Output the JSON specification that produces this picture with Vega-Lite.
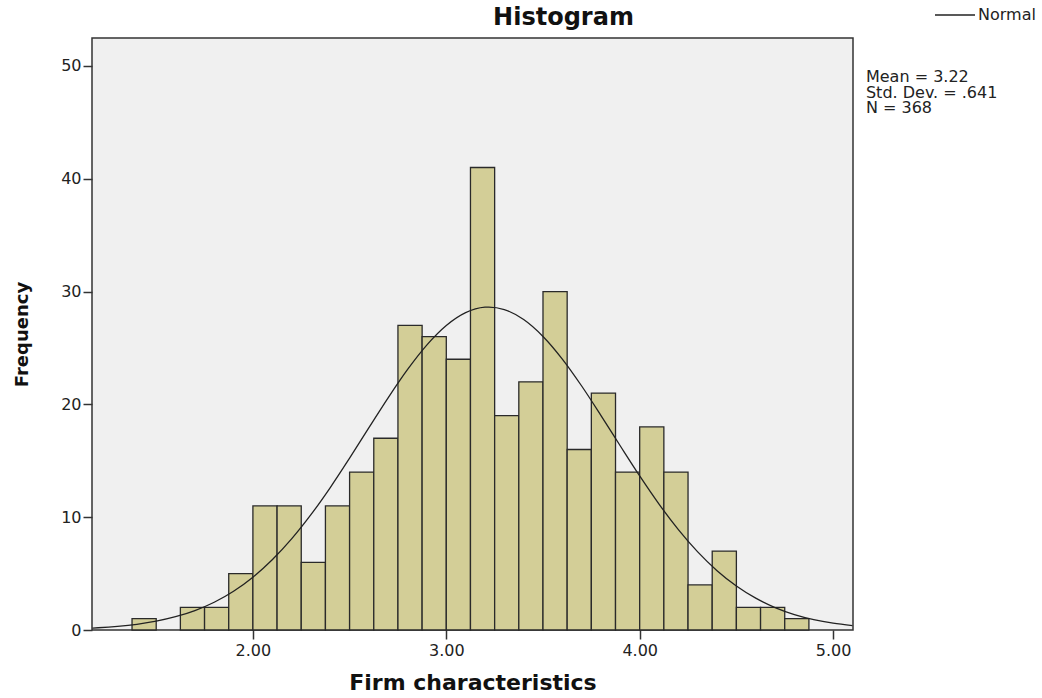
{
  "$schema": "https://vega.github.io/schema/vega-lite/v6.json",
  "width": 761,
  "height": 592,
  "autosize": {"type": "none"},
  "padding": {"left": 92, "top": 38, "right": 189, "bottom": 68},
  "background": "white",
  "config": {
    "font": "DejaVu Sans",
    "view": {"fill": "#f0f0f0", "stroke": "#333333", "strokeWidth": 1.5},
    "axis": {"grid": false, "domain": false, "tickColor": "#333333", "tickSize": 9, "tickWidth": 1.5, "labelFont": "DejaVu Sans", "labelFontSize": 16, "labelColor": "#222222", "titleFont": "DejaVu Sans", "titleFontWeight": "bold", "titleColor": "#111111"}
  },
  "title": {"text": "Histogram", "fontSize": 24, "font": "DejaVu Sans", "fontWeight": "bold", "color": "#111111", "anchor": "middle", "dx": 91, "dy": 44, "offset": 8},
  "datasets": {
    "bins": [
      {"bin_start": 1.375, "bin_end": 1.5, "count": 1},
      {"bin_start": 1.625, "bin_end": 1.75, "count": 2},
      {"bin_start": 1.75, "bin_end": 1.875, "count": 2},
      {"bin_start": 1.875, "bin_end": 2.0, "count": 5},
      {"bin_start": 2.0, "bin_end": 2.125, "count": 11},
      {"bin_start": 2.125, "bin_end": 2.25, "count": 11},
      {"bin_start": 2.25, "bin_end": 2.375, "count": 6},
      {"bin_start": 2.375, "bin_end": 2.5, "count": 11},
      {"bin_start": 2.5, "bin_end": 2.625, "count": 14},
      {"bin_start": 2.625, "bin_end": 2.75, "count": 17},
      {"bin_start": 2.75, "bin_end": 2.875, "count": 27},
      {"bin_start": 2.875, "bin_end": 3.0, "count": 26},
      {"bin_start": 3.0, "bin_end": 3.125, "count": 24},
      {"bin_start": 3.125, "bin_end": 3.25, "count": 41},
      {"bin_start": 3.25, "bin_end": 3.375, "count": 19},
      {"bin_start": 3.375, "bin_end": 3.5, "count": 22},
      {"bin_start": 3.5, "bin_end": 3.625, "count": 30},
      {"bin_start": 3.625, "bin_end": 3.75, "count": 16},
      {"bin_start": 3.75, "bin_end": 3.875, "count": 21},
      {"bin_start": 3.875, "bin_end": 4.0, "count": 14},
      {"bin_start": 4.0, "bin_end": 4.125, "count": 18},
      {"bin_start": 4.125, "bin_end": 4.25, "count": 14},
      {"bin_start": 4.25, "bin_end": 4.375, "count": 4},
      {"bin_start": 4.375, "bin_end": 4.5, "count": 7},
      {"bin_start": 4.5, "bin_end": 4.625, "count": 2},
      {"bin_start": 4.625, "bin_end": 4.75, "count": 2},
      {"bin_start": 4.75, "bin_end": 4.875, "count": 1}
    ],
    "curve": [
      {"x": 1.17, "y": 0.172}, {"x": 1.2, "y": 0.2}, {"x": 1.3, "y": 0.323}, {"x": 1.4, "y": 0.508},
      {"x": 1.5, "y": 0.782}, {"x": 1.6, "y": 1.175}, {"x": 1.7, "y": 1.721}, {"x": 1.8, "y": 2.461},
      {"x": 1.9, "y": 3.435}, {"x": 2.0, "y": 4.68}, {"x": 2.1, "y": 6.221}, {"x": 2.2, "y": 8.072},
      {"x": 2.3, "y": 10.221}, {"x": 2.4, "y": 12.631}, {"x": 2.5, "y": 15.237}, {"x": 2.6, "y": 17.934},
      {"x": 2.7, "y": 20.604}, {"x": 2.8, "y": 23.099}, {"x": 2.9, "y": 25.276}, {"x": 3.0, "y": 26.992},
      {"x": 3.1, "y": 28.133}, {"x": 3.2, "y": 28.616}, {"x": 3.22, "y": 28.63}, {"x": 3.3, "y": 28.408},
      {"x": 3.4, "y": 27.523}, {"x": 3.5, "y": 26.025}, {"x": 3.6, "y": 24.017}, {"x": 3.7, "y": 21.63},
      {"x": 3.8, "y": 19.011}, {"x": 3.9, "y": 16.309}, {"x": 4.0, "y": 13.655}, {"x": 4.1, "y": 11.157},
      {"x": 4.2, "y": 8.898}, {"x": 4.3, "y": 6.925}, {"x": 4.4, "y": 5.26}, {"x": 4.5, "y": 3.899},
      {"x": 4.6, "y": 2.821}, {"x": 4.7, "y": 1.991}, {"x": 4.8, "y": 1.372}, {"x": 4.9, "y": 0.923},
      {"x": 5.0, "y": 0.606}, {"x": 5.1, "y": 0.388}
    ],
    "stats": [{"label": "Mean = 3.22\nStd. Dev. = .641\nN = 368"}]
  },
  "layer": [
    {
      "data": {"name": "bins"},
      "mark": {"type": "rect", "fill": "#d3ce97", "stroke": "#2a2a2a", "strokeWidth": 1.3},
      "encoding": {
        "x": {"field": "bin_start", "type": "quantitative",
              "scale": {"domain": [1.168, 5.103], "nice": false, "zero": false},
              "axis": {"values": [2, 3, 4, 5], "format": ".2f", "title": "Firm characteristics", "titleFontSize": 22, "titlePadding": 14, "labelPadding": 3}},
        "x2": {"field": "bin_end"},
        "y": {"field": "count", "type": "quantitative",
              "scale": {"domain": [0, 52.48], "nice": false},
              "axis": {"values": [0, 10, 20, 30, 40, 50], "format": "d", "title": "Frequency", "titleFontSize": 18, "titlePadding": 29, "labelPadding": 2}},
        "y2": {"datum": 0}
      }
    },
    {
      "data": {"name": "curve"},
      "mark": {"type": "line", "strokeWidth": 1.3, "interpolate": "monotone"},
      "encoding": {
        "x": {"field": "x", "type": "quantitative"},
        "y": {"field": "y", "type": "quantitative"},
        "stroke": {"datum": "Normal", "type": "nominal",
                   "scale": {"range": ["#222222"]},
                   "legend": {"title": null, "orient": "none", "legendX": 842, "legendY": -44, "symbolType": "stroke", "symbolSize": 1600, "symbolStrokeWidth": 1.3, "labelFontSize": 16, "labelFont": "DejaVu Sans", "labelColor": "#222222", "labelOffset": 2}}
      }
    },
    {
      "data": {"name": "stats"},
      "mark": {"type": "text", "align": "left", "baseline": "alphabetic", "fontSize": 16, "lineBreak": "\n", "lineHeight": 15.5, "color": "#222222", "font": "DejaVu Sans"},
      "encoding": {
        "x": {"datum": 5.17},
        "y": {"datum": 48.55},
        "text": {"field": "label"}
      }
    }
  ]
}
